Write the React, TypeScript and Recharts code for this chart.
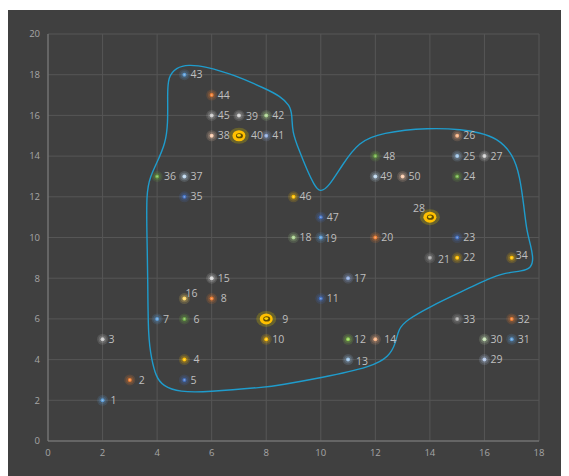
import React from 'react';
import { ScatterChart, Scatter, XAxis, YAxis, CartesianGrid } from 'recharts';

// point ids with their coordinates
const pointIds = [1, 2, 3, 4, 5, 6, 7, 8, 9, 10, 11, 12, 13, 14, 15, 16, 17, 18, 19, 20, 21, 22, 23, 24, 25,
    26, 27, 28, 29, 30, 31, 32, 33, 34, 35, 36, 37, 38, 39, 40, 41, 42, 43, 44, 45, 46, 47, 48, 49, 50];
const pointX = [2, 3, 2, 5, 5, 5, 4, 6, 8, 8, 10, 11, 11, 12, 6, 5, 11, 9, 10, 12, 14, 15, 15, 15, 15,
    15, 16, 14, 16, 16, 17, 17, 15, 17, 5, 4, 5, 6, 7, 7, 8, 8, 5, 6, 6, 9, 10, 12, 12, 13];
const pointY = [2, 3, 5, 4, 3, 6, 6, 7, 6, 5, 7, 5, 4, 5, 8, 7, 8, 10, 10, 10, 9, 9, 10, 13, 14,
    15, 14, 11, 4, 5, 5, 6, 6, 9, 12, 13, 13, 15, 16, 15, 15, 16, 18, 17, 16, 12, 11, 14, 13, 13];

// freehand outline traced in chart units
const outlineX = [5.13, 5.8, 6.8, 8.0, 8.5, 8.87, 8.95, 8.95, 9.2, 9.5, 9.75, 9.97, 10.3, 10.8, 11.4, 12.2, 14.0,
    15.2, 15.8, 16.45, 17.05, 17.3, 17.45, 17.55, 17.7, 17.8, 17.7, 17.4, 16.7, 16.2, 15.1, 14.0, 13.15, 12.84,
    12.75, 12.5, 11.9, 10.0, 8.5, 8.0, 5.8, 4.84, 4.2, 3.95, 3.8, 3.67, 3.66, 3.63, 3.6, 3.75, 4.0, 4.3, 4.4,
    4.38, 4.4, 4.7];
const outlineY = [18.5, 18.4, 18.0, 17.3, 16.95, 16.5, 16.0, 15.2, 14.3, 13.3, 12.6, 12.2, 12.5, 13.6, 14.7, 15.15,
    15.4, 15.3, 15.15, 14.9, 14.1, 13.0, 11.5, 10.3, 9.6, 8.9, 8.5, 8.35, 8.25, 8.0, 7.3, 6.6, 5.95, 5.5, 4.8,
    4.15, 3.65, 3.1, 2.75, 2.65, 2.4, 2.4, 2.7, 3.2, 4.0, 5.1, 7.9, 9.9, 12.2, 13.0, 13.7, 14.6, 15.6, 17.0,
    17.9, 18.35];

const xTicks = [0, 2, 4, 6, 8, 10, 12, 14, 16, 18];
const yTicks = [0, 2, 4, 6, 8, 10, 12, 14, 16, 18, 20];

// styling per point
const dotColor: Record<number, string> = {
    1: '#5b9bd5', 2: '#ed7d31', 3: '#c8c8c8', 4: '#ffc000', 5: '#4472c4', 6: '#70ad47', 7: '#5b9bd5',
    8: '#ed7d31', 10: '#ffc000', 11: '#4472c4', 12: '#8fd14f', 13: '#9dc3e6', 14: '#f4b183', 15: '#d9d9d9',
    16: '#ffd966', 17: '#8faadc', 18: '#a9d18e', 19: '#5b9bd5', 20: '#ed7d31', 21: '#a5a5a5', 22: '#ffc000',
    23: '#4472c4', 24: '#70ad47', 25: '#9dc3e6', 26: '#f4b183', 27: '#d0d0d0', 29: '#b4c7e7', 30: '#c5e0b4',
    31: '#5b9bd5', 32: '#ed7d31', 33: '#a5a5a5', 34: '#ffc000', 35: '#4472c4', 36: '#70ad47', 37: '#bdd7ee',
    38: '#f8cbad', 39: '#d0d0d0', 41: '#8faadc', 42: '#a9d18e', 43: '#5b9bd5', 44: '#ed7d31', 45: '#c8c8c8',
    46: '#ffc000', 47: '#4472c4', 48: '#70ad47', 49: '#bdd7ee', 50: '#f8cbad',
};
const bigDots = [9, 28, 40];
const labelShift: Record<number, [number, number]> = {
    1: [8, 0], 2: [9, 0], 4: [9, 0], 6: [9, 0], 8: [9, 0], 9: [16, 0], 13: [8, 2], 14: [9, 0],
    16: [1, -5], 19: [4, 1], 21: [8, 2], 28: [-17, -9], 34: [4, -2], 39: [7, 1], 40: [12, 0],
    36: [7, 0], 46: [6, 0], 48: [8, 0], 49: [5, 0], 50: [6, 0],
};

const points = pointIds.map((id, i) => ({ id, x: pointX[i], y: pointY[i] }));
const outline = outlineX.map((x, i) => ({ x, y: outlineY[i] }));

const Dot = (props: any) => {
    const { cx, cy, payload } = props;
    if (cx == null || cy == null) return <g />;
    const id = payload.id;
    const big = bigDots.includes(id);
    const c = dotColor[id] || '#ffc000';
    const [dx, dy] = labelShift[id] || [6, 0];
    return (
        <g>
            {big ? (
                <g>
                    <ellipse cx={cx} cy={cy} rx={10} ry={8} fill="#c8b400" opacity={0.3} />
                    <ellipse cx={cx} cy={cy} rx={6.5} ry={5.5} fill="#ffc000" />
                    <ellipse cx={cx + 0.5} cy={cy} rx={3.5} ry={2.6} fill="#3a3000" opacity={0.8} />
                    <ellipse cx={cx} cy={cy - 0.3} rx={2} ry={1.4} fill="#ffd200" />
                </g>
            ) : (
                <g>
                    <circle cx={cx} cy={cy} r={5.5} fill={c} opacity={0.16} />
                    <circle cx={cx} cy={cy} r={3.8} fill={c} opacity={0.2} />
                    <circle cx={cx} cy={cy} r={2} fill={c} />
                    <circle cx={cx} cy={cy} r={0.9} fill="#ffffff" opacity={0.35} />
                </g>
            )}
            <text x={cx + dx} y={cy + dy + 3.6} fill="#bfbfbf" fontSize={10.5}
                fontFamily="'Open Sans', sans-serif">{id}</text>
        </g>
    );
};

const tickStyle = { fill: '#a6a6a6', fontSize: 9.5, fontFamily: "'Open Sans', sans-serif" };

export default function App() {
    return (
        <div style={{ width: 562, height: 466, background: '#404040', marginLeft: -1, marginTop: 2 }}>
            <ScatterChart width={562} height={466} margin={{ top: 24, right: 30, bottom: 5, left: 11 }}>
                <CartesianGrid stroke="#565656" strokeWidth={1} />
                <XAxis type="number" dataKey="x" domain={[0, 18]} ticks={xTicks} tick={tickStyle}
                    axisLine={{ stroke: '#808080' }} tickLine={false} height={30} />
                <YAxis type="number" dataKey="y" domain={[0, 20]} ticks={yTicks} tick={tickStyle}
                    axisLine={{ stroke: '#808080' }} tickLine={false} width={30} />
                <Scatter data={outline} line={{ stroke: '#1f9ccc', strokeWidth: 1.4 }} lineJointType="basisClosed"
                    shape={() => <g />} isAnimationActive={false} />
                <Scatter data={points} shape={Dot} isAnimationActive={false} />
            </ScatterChart>
        </div>
    );
}
